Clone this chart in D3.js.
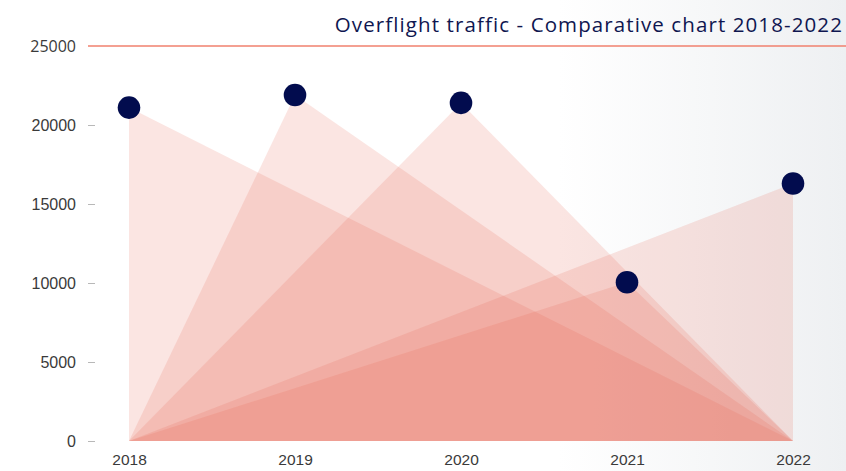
<!DOCTYPE html>
<html>
<head>
<meta charset="utf-8">
<script src="https://cdn.jsdelivr.net/npm/d3@7"></script>
<style>
  html, body { margin: 0; padding: 0; background: #fff; }
  svg { display: block; font-family: "Open Sans", "Noto Sans", sans-serif; }
</style>
</head>
<body>
<svg id="chart" width="846" height="471"></svg>
<script>
// Overflight traffic per year
const years = ["2018", "2019", "2020", "2021", "2022"];
const flights = [21100, 21900, 21400, 10050, 16300];
const yTicks = [0, 5000, 10000, 15000, 20000, 25000];
const titleText = "Overflight traffic - Comparative chart 2018-2022";

const W = 846, H = 471;
const svg = d3.select("#chart");

// soft grey wash towards the right edge
const defs = svg.append("defs");
const bg = defs.append("linearGradient").attr("id", "bgGrad")
  .attr("x1", "0%").attr("x2", "100%").attr("y1", "0%").attr("y2", "0%");
bg.append("stop").attr("offset", "0%").attr("stop-color", "#ffffff");
bg.append("stop").attr("offset", "66%").attr("stop-color", "#ffffff");
bg.append("stop").attr("offset", "100%").attr("stop-color", "#eef0f2");
svg.append("rect").attr("width", W).attr("height", H).attr("fill", "url(#bgGrad)");

const x = d3.scalePoint().domain(years).range([129, 793]);
const y = d3.scaleLinear().domain([0, 25000]).range([441, 46]);

// y axis: short grey ticks, labels on the left
const yAxis = svg.append("g")
  .attr("transform", "translate(95,0)")
  .call(d3.axisLeft(y).tickValues(yTicks.filter(t => t < 25000)).tickSize(7).tickPadding(12).tickFormat(d3.format("d")));
yAxis.select(".domain").remove();
yAxis.selectAll(".tick line").attr("stroke", "#b8b8b8");
yAxis.selectAll(".tick text").attr("fill", "#3a3a3a").attr("font-size", 16);

// top value label with the full-width accent rule
svg.append("text")
  .attr("x", 76).attr("y", y(25000)).attr("dy", "0.36em")
  .attr("text-anchor", "end").attr("fill", "#3a3a3a").attr("font-size", 16)
  .text(d3.format("d")(25000));
svg.append("line")
  .attr("x1", 88).attr("x2", W).attr("y1", y(25000)).attr("y2", y(25000))
  .attr("stroke", "#f0806e").attr("stroke-width", 1.5);

// title, right aligned above the rule
svg.append("text")
  .attr("x", 843).attr("y", 32)
  .attr("text-anchor", "end").attr("fill", "#0f1650").attr("font-size", 20.5)
  .attr("letter-spacing", 1.1)
  .text(titleText);

// one translucent triangle per year: base spans the whole x range
const [x0, x1] = x.range();
const tri = d => `M${x0},${y(0)}L${x(d.year)},${y(d.value)}L${x1},${y(0)}Z`;
const data = years.map((yr, i) => ({ year: yr, value: flights[i] }));

svg.append("g").selectAll("path").data(data).join("path")
  .attr("d", tri)
  .attr("fill", "#e85d4a")
  .attr("fill-opacity", 0.16);

// x axis labels
const xAxis = svg.append("g")
  .attr("transform", `translate(0,${y(0)})`)
  .call(d3.axisBottom(x).tickSize(0).tickPadding(13));
xAxis.select(".domain").remove();
xAxis.selectAll(".tick text").attr("fill", "#3a3a3a").attr("font-size", 15.5);

// markers at each peak
svg.append("g").selectAll("circle").data(data).join("circle")
  .attr("cx", d => x(d.year)).attr("cy", d => y(d.value))
  .attr("r", 11.3)
  .attr("fill", "#020c4e");
</script>
</body>
</html>
